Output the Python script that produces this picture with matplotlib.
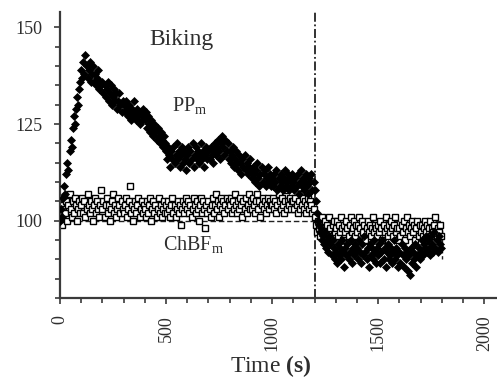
import numpy as np
import matplotlib.pyplot as plt
from matplotlib.ticker import MultipleLocator, FixedLocator

# ---------------------------------------------------------------------
# Data (one sample every 5 s)
# ---------------------------------------------------------------------

time_s = np.arange(0, 1800, 5)

# perfusion pressure, PP_m (filled marks)
pp_m = [
    100, 103, 101, 106, 109, 107, 112, 115, 113, 118, 121, 119, 124, 127, 125, 129, 132, 130, 134, 136,   # 0-95
    139, 137, 141, 138, 143, 140, 137, 139, 141, 136, 138, 140, 136, 138, 135, 137, 139, 134, 136, 135,   # 100-195
    136, 133, 135, 132, 134, 136, 131, 133, 135, 130, 132, 134, 131, 133, 129, 131, 133, 130, 128, 131,   # 200-295
    130, 128, 131, 129, 127, 130, 128, 126, 129, 127, 131, 128, 126, 129, 127, 125, 128, 126, 129, 127,   # 300-395
    126, 128, 124, 127, 125, 123, 126, 124, 122, 125, 123, 121, 124, 122, 120, 123, 121, 119, 122, 120,   # 400-495
    118, 116, 119, 117, 114, 118, 116, 119, 115, 117, 120, 116, 118, 114, 117, 119, 115, 118, 116, 113,   # 500-595
    117, 119, 115, 118, 116, 120, 114, 117, 119, 116, 118, 115, 117, 120, 116, 118, 114, 117, 119, 116,   # 600-695
    118, 116, 119, 117, 115, 118, 120, 117, 119, 121, 118, 116, 120, 122, 119, 117, 121, 118, 120, 116,   # 700-795
    118, 115, 117, 119, 114, 116, 118, 115, 113, 117, 115, 112, 116, 114, 117, 113, 115, 112, 114, 116,   # 800-895
    113, 111, 114, 112, 110, 113, 115, 111, 109, 112, 114, 110, 112, 113, 109, 111, 114, 110, 112, 109,   # 900-995
    111, 109, 112, 110, 113, 108, 111, 109, 112, 110, 108, 111, 113, 109, 110, 112, 108, 111, 109, 112,   # 1000-1095
    110, 108, 111, 109, 112, 107, 110, 113, 109, 111, 108, 110, 112, 109, 107, 111, 110, 112, 108, 110,   # 1100-1195
    108, 105, 102, 100, 99, 97, 98, 95, 96, 94, 97, 93, 95, 92, 96, 94, 91, 95, 93, 90,                   # 1200-1295
    92, 89, 94, 91, 93, 90, 95, 92, 88, 93, 91, 94, 90, 92, 95, 89, 93, 91, 94, 92,                       # 1300-1395
    93, 90, 95, 92, 89, 94, 91, 96, 92, 90, 93, 88, 94, 91, 93, 90, 95, 92, 89, 93,                       # 1400-1495
    91, 94, 89, 92, 95, 90, 93, 88, 92, 94, 90, 91, 93, 89, 92, 95, 90, 93, 91, 88,                       # 1500-1595
    92, 89, 94, 91, 88, 93, 90, 92, 87, 91, 86, 93, 89, 92, 90, 94, 88, 91, 93, 90,                       # 1600-1695
    92, 95, 91, 94, 93, 96, 92, 95, 93, 91, 96, 94, 92, 97, 93, 95, 92, 96, 94, 93,                       # 1700-1795
]

# choroidal blood flow, ChBF_m (open squares)
chbf_m = [
    101, 104, 99, 103, 106, 102, 105, 100, 104, 107, 103, 101, 105, 102, 106, 104, 100, 103, 105, 102,
    104, 106, 102, 105, 101, 103, 107, 104, 102, 105, 103, 100, 104, 106, 102, 105, 103, 101, 104, 108,
    103, 105, 101, 104, 106, 102, 104, 100, 103, 105, 107, 102, 104, 101, 103, 106, 104, 102, 105, 103,
    102, 104, 106, 101, 103, 105, 109, 102, 104, 100, 103, 105, 102, 104, 106, 101, 103, 105, 102, 104,
    103, 101, 105, 102, 104, 106, 100, 103, 105, 102, 104, 101, 103, 106, 102, 104, 101, 103, 105, 102,
    104, 102, 105, 103, 101, 104, 106, 102, 104, 101, 103, 105, 102, 104, 99, 103, 105, 102, 104, 106,
    103, 105, 102, 104, 101, 103, 106, 104, 102, 105, 103, 100, 104, 106, 102, 105, 103, 98, 104, 102,
    105, 103, 101, 104, 106, 102, 104, 107, 103, 105, 101, 104, 106, 103, 105, 102, 104, 106, 103, 105,
    104, 106, 102, 105, 103, 107, 104, 102, 105, 103, 106, 104, 101, 105, 103, 106, 102, 104, 107, 103,
    105, 103, 106, 104, 102, 105, 107, 103, 105, 101, 104, 106, 103, 105, 102, 104, 106, 103, 105, 104,
    104, 106, 103, 105, 102, 104, 107, 105, 103, 106, 104, 102, 105, 108, 103, 105, 104, 106, 103, 105,
    105, 103, 106, 104, 102, 105, 103, 107, 104, 106, 103, 105, 102, 104, 106, 103, 105, 104, 102, 103,
    101, 99, 97, 100, 98, 96, 99, 101, 97, 98, 100, 96, 99, 97, 101, 98, 96, 99, 100, 97,
    98, 100, 96, 99, 97, 101, 98, 95, 99, 97, 100, 98, 96, 99, 101, 97, 98, 100, 96, 99,
    97, 99, 101, 98, 96, 100, 97, 99, 95, 98, 100, 97, 99, 96, 98, 101, 97, 99, 98, 96,
    99, 97, 100, 98, 95, 99, 97, 101, 98, 96, 99, 97, 100, 98, 96, 99, 101, 97, 98, 95,
    98, 96, 99, 97, 100, 95, 98, 101, 97, 99, 96, 98, 100, 97, 99, 95, 98, 100, 96, 99,
    97, 99, 96, 98, 100, 97, 99, 95, 98, 100, 96, 98, 97, 99, 101, 96, 98, 97, 99, 96,
]

# dashed baseline (100 %) and end of exercise
baseline_x = [0, 1800, 1800]
baseline_y = [100, 100, 90]
exercise_end = 1200

x_ticks = [0, 500, 1000, 1500, 2000]
y_ticks = [100, 125, 150]


# ---------------------------------------------------------------------
# Plot
# ---------------------------------------------------------------------

def main():
    plt.rcParams["font.family"] = ["Liberation Serif", "DejaVu Serif"]
    plt.rcParams["mathtext.fontset"] = "custom"
    plt.rcParams["mathtext.rm"] = "Liberation Serif"
    plt.rcParams["mathtext.it"] = "Liberation Serif:italic"
    plt.rcParams["mathtext.bf"] = "Liberation Serif:bold"

    text_col = "#2e2e2e"
    axis_col = "#3a3a3a"

    fig = plt.figure(figsize=(4.97, 3.78), dpi=100)
    ax = fig.add_axes([60 / 497, 80 / 378, 437 / 497, 286 / 378])

    ax.plot(baseline_x, baseline_y, color="#222222", linestyle=(0, (4, 2)),
            linewidth=1.0, zorder=1)
    ax.axvline(exercise_end, color="#222222", linestyle=(0, (5, 1.5, 1, 1.5)),
               linewidth=1.3, zorder=1)

    ax.plot(time_s, chbf_m, linestyle="none", marker="s", markersize=4.6,
            markerfacecolor="white", markeredgecolor="black",
            markeredgewidth=1.0, zorder=2)
    ax.plot(time_s, pp_m, linestyle="none", marker="D", markersize=3.8,
            markerfacecolor="black", markeredgecolor="black",
            markeredgewidth=0.5, zorder=3)

    ax.set_xlim(0, 2060)
    ax.set_ylim(80, 154)

    for side in ("top", "right"):
        ax.spines[side].set_visible(False)
    for side in ("left", "bottom"):
        ax.spines[side].set_linewidth(1.6)
        ax.spines[side].set_color(axis_col)

    ax.xaxis.set_major_locator(FixedLocator(x_ticks))
    ax.xaxis.set_minor_locator(MultipleLocator(100))
    ax.yaxis.set_major_locator(FixedLocator(y_ticks))
    ax.yaxis.set_minor_locator(MultipleLocator(5))

    ax.tick_params(which="both", direction="out", color=axis_col, width=1.2,
                   labelcolor=text_col, labelsize=13)
    ax.tick_params(which="major", length=4.5)
    ax.tick_params(which="minor", length=3.5)
    ax.tick_params(axis="y", which="major", pad=8)
    ax.tick_params(axis="x", which="major", pad=8, labelrotation=90)

    ax.text(571, 147, "Biking", fontsize=17, color=text_col,
            ha="center", va="center")
    ax.text(528, 128.4, r"PP$_{\rm m}$", fontsize=14.5, color=text_col,
            ha="left", va="baseline")
    ax.text(486, 92.4, r"ChBF$_{\rm m}$", fontsize=14.5, color=text_col,
            ha="left", va="baseline")

    fig.text(271 / 497, 1 - 366 / 378, r"Time $\mathbf{(s)}$", fontsize=17,
             color=text_col, ha="center", va="center")

    fig.savefig("out.png", dpi=100)


if __name__ == "__main__":
    main()
